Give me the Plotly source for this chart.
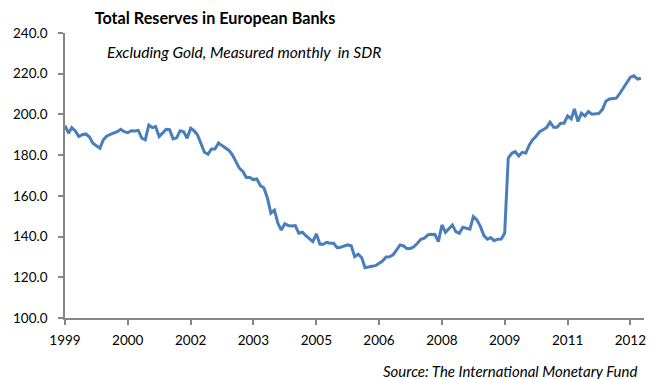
import pandas as pd
import plotly.graph_objects as go

# Monthly total reserves excluding gold (SDR), Jan 1999 onwards
start_month = "1999-01-01"
reserves_1999_2001 = [194.5, 190.8, 193.5, 191.9, 189.1, 190, 190.4, 189, 185.8, 184.5, 183.4, 187.5,
                      189.4, 190.2, 190.8, 191.5, 192.7, 191.5, 191, 192, 191.9, 192.2, 188.3, 187.5,
                      194.8, 193.5, 194, 189.1, 190.8, 192.7, 192.5, 188, 188.5, 192, 191.5, 188.3]
reserves_2002_2004 = [193.2, 191.9, 190, 185.4, 181.4, 180.4, 183, 183, 186, 184.7, 183.5, 182.3,
                      180, 177, 173.6, 172, 169, 169, 168, 168.3, 165, 164, 159, 151.5,
                      153, 146.5, 143.2, 146.3, 145.4, 145.2, 145.4, 141.6, 142.1, 140.4, 138.8, 137.5]
reserves_2005_2007 = [141.3, 136.2, 136.2, 137.2, 136.7, 136.7, 134.5, 134.7, 135.4, 135.9, 135.5, 130.1,
                      131.3, 129.6, 124.7, 124.9, 125.4, 125.7, 127, 128, 130, 130.1, 131, 133.4,
                      135.9, 135.4, 134.2, 134.2, 135, 136.7, 138.7, 139.2, 140.8, 141.1, 141, 137.5]
reserves_2008_2010 = [145.7, 142.1, 143.7, 145.7, 142.4, 141.6, 144.6, 144.1, 143.6, 149.8, 148.2, 145,
                      140.5, 138.7, 139.5, 138, 138.7, 138.8, 141.6, 178.5, 180.9, 181.7, 179.6, 181.4,
                      181, 185, 187.5, 189.3, 191.5, 192.5, 193.5, 196.2, 193.7, 193.7, 195.7, 195.7]
reserves_2011_2012 = [199.3, 197.8, 202.7, 196.5, 200.6, 199.3, 201.4, 200.1, 200.2, 200.5, 202.5, 206.5,
                      207.6, 208, 208, 210.4, 213, 216.1, 218.3, 219, 217.4, 217.8]

values = reserves_1999_2001 + reserves_2002_2004 + reserves_2005_2007 + reserves_2008_2010 + reserves_2011_2012
dates = pd.date_range(start_month, periods=len(values), freq="MS")

tick_dates = ["1999-01-01", "2000-07-01", "2002-01-01", "2003-07-01", "2005-01-01",
              "2006-07-01", "2008-01-01", "2009-07-01", "2011-01-01", "2012-07-01"]
tick_labels = ["1999", "2000", "2002", "2003", "2005", "2006", "2008", "2009", "2011", "2012"]
y_ticks = [100, 120, 140, 160, 180, 200, 220, 240]

FONT = "Lato, 'Open Sans', sans-serif"
AXIS = "#868686"

fig = go.Figure()
fig.add_trace(go.Scatter(x=dates, y=values, mode="lines",
                         line=dict(color="#4a7ebb", width=3), hoverinfo="skip"))

fig.update_layout(
    width=652, height=379,
    margin=dict(l=64.5, r=6, t=33, b=61),
    paper_bgcolor="white", plot_bgcolor="white",
    showlegend=False,
    font=dict(family=FONT, size=13, color="#000000"),
    title=dict(text="<b>Total Reserves in European Banks</b>", x=215 / 652, y=1 - 18 / 379,
               xref="container", yref="container", xanchor="center", yanchor="middle",
               font=dict(family=FONT, size=16.2, color="#000000")),
    xaxis=dict(type="date", range=["1999-01-01", "2012-10-28"],
               tickmode="array", tickvals=tick_dates, ticktext=tick_labels,
               showline=True, linecolor=AXIS, linewidth=1.5, showgrid=False, zeroline=False,
               ticks="outside", ticklen=5, tickcolor=AXIS, tickwidth=1.5, ticklabelstandoff=4,
               tickfont=dict(family=FONT, size=13.5, color="#000000")),
    yaxis=dict(range=[100, 240], tickmode="array", tickvals=y_ticks,
               ticktext=[f"{v:.1f}" for v in y_ticks],
               showline=True, linecolor=AXIS, linewidth=1.5, showgrid=False, zeroline=False,
               ticks="outside", ticklen=5, tickcolor=AXIS, tickwidth=1.5, ticklabelstandoff=8,
               tickfont=dict(family=FONT, size=13.5, color="#000000")),
    annotations=[
        dict(text="<i>Excluding Gold, Measured monthly  in SDR</i>", xref="paper", yref="paper",
             x=(244 - 64.5) / 581.5, y=(318 - 52) / 285, xanchor="center", yanchor="middle",
             showarrow=False, font=dict(family=FONT, size=15.6, color="#000000")),
        dict(text="<i>Source: The International Monetary Fund</i>", xref="paper", yref="paper",
             x=(641 - 64.5) / 581.5, y=(318 - 371) / 285, xanchor="right", yanchor="middle",
             showarrow=False, font=dict(family=FONT, size=15, color="#000000")),
    ],
)

fig.write_html("out.html", config={"displayModeBar": False},
               post_script="document.body.style.margin='0px';")
